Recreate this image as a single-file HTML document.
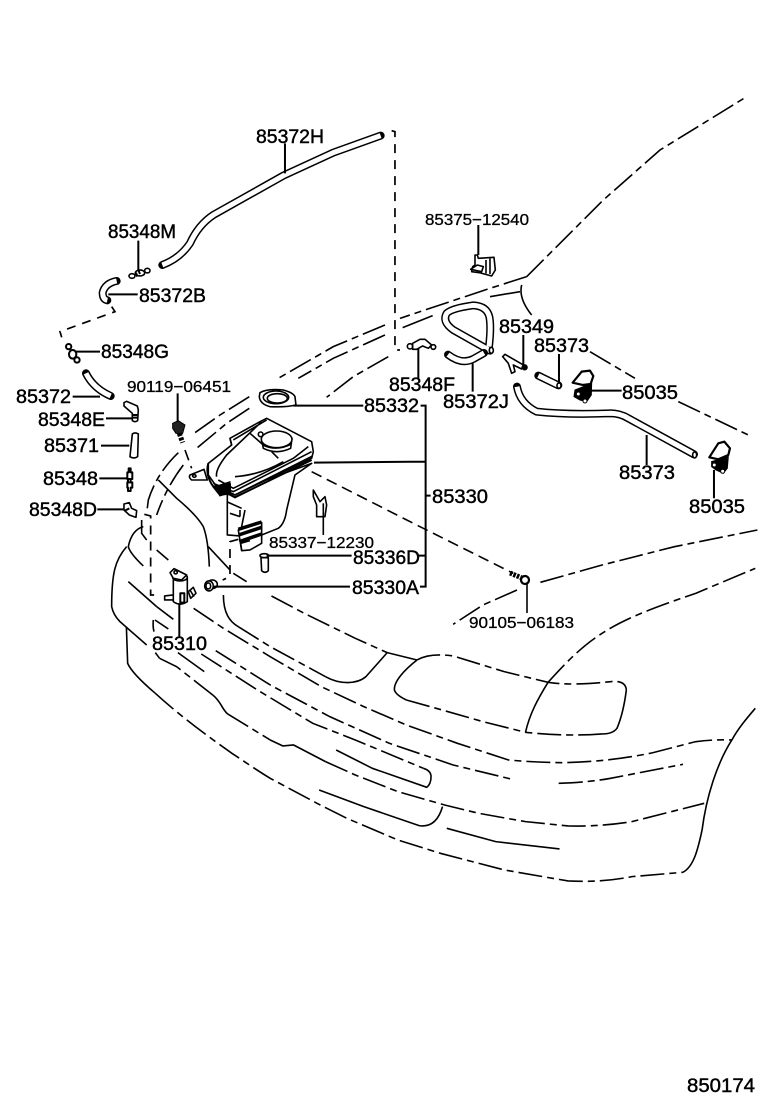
<!DOCTYPE html>
<html><head><meta charset="utf-8"><style>
html,body{margin:0;padding:0;background:#fff}
svg{display:block}
svg *{vector-effect:non-scaling-stroke}
.l{fill:none;stroke:#000;stroke-width:1.6;stroke-linejoin:round}
.k{fill:none;stroke:#000;stroke-width:2}
.d{fill:none;stroke:#000;stroke-width:1.6;stroke-dasharray:24 5 7 5}
.b{fill:none;stroke:#000;stroke-width:1.7;stroke-dasharray:9 7}
.s{fill:none;stroke:#000;stroke-width:1.6;stroke-dasharray:11 6}
.to{fill:none;stroke:#000;stroke-width:8;stroke-linecap:round;stroke-linejoin:round}
.ti{fill:none;stroke:#fff;stroke-width:5;stroke-linecap:butt;stroke-linejoin:round}
.w{fill:#fff;stroke:#000;stroke-width:1.6;stroke-linejoin:round}
.f{fill:#000;stroke:#000;stroke-width:1}
text{font-family:"Liberation Sans",sans-serif;fill:#000;font-size:19.5px;font-weight:400;stroke:#000;stroke-width:.45}
text.m{font-size:16px;stroke-width:.3}
</style></head><body>
<svg xmlns="http://www.w3.org/2000/svg" width="760" height="1112" viewBox="0 0 760 1112">
<rect width="760" height="1112" fill="#fff"/>

<!-- front of car (zoom 4 coordinates) -->
<g transform="translate(100,530) scale(.4255,.3333)">
<path class="d" d="M130,490C190,560 260,625 310,670C340,695 370,722 400,745L510,820L580,865L700,930L800,970L950,1020L1100,1053Q1180,1058 1250,1040L1370,1027"/>
<path class="l" d="M62,290L65,400Q75,430 130,490M1370,1027C1395,1010 1405,960 1415,900C1425,800 1450,700 1485,630C1500,595 1520,565 1540,535"/>
<path class="d" d="M220,235L290,295L400,380L520,470L620,530L720,585L840,640L960,690Q1030,698 1090,698Q1200,695 1300,668L1400,635Q1440,628 1485,630"/>
<path class="l" d="M290,195C290,250 305,275 325,290"/>
<path class="d" d="M325,290L400,350L530,440"/>
<path class="l" d="M530,440C565,465 605,462 625,440L675,368L745,390"/>
<path class="d" d="M403,198L480,250L600,325L675,368"/>
<path class="l" d="M745,390C715,420 690,455 692,480Q695,495 720,510"/>
<path class="d" d="M720,510L790,535L900,575L1000,607"/>
<path class="d" d="M745,390Q775,368 830,378L950,425L1053,457Q1110,468 1200,455Q1235,450 1237,480"/>
<path class="l" d="M1237,480Q1230,550 1215,595Q1205,612 1180,612"/>
<path class="d" d="M1180,612Q1100,620 1000,607"/>
<path class="l" d="M1000,607C1010,550 1030,505 1053,457"/>
<path class="d" d="M1053,457C1090,405 1130,350 1180,310C1240,260 1320,225 1400,190L1540,115"/>
<path class="d" d="M1035,157L1180,105L1350,50L1545,0"/>
<path class="d" d="M980,180L900,225L830,283"/>
<path class="d" d="M272,362L400,465L540,560L680,640L830,705L975,750"/>
<path class="d" d="M238,372L370,480L500,580L600,630L760,715"/>
<path class="l" d="M760,715Q778,722 778,740Q778,762 768,772L640,715L555,660"/>
<path class="l" d="M183,368L245,425M140,385L130,368"/>
<path class="d" d="M140,385L180,410L265,495"/>
<path class="l" d="M265,495C285,515 285,535 300,552"/>
<path class="d" d="M300,552L400,630"/>
<path class="l" d="M400,630L430,648L455,645L530,695"/>
<path class="d" d="M530,695L600,735L700,785L810,825L890,850L1000,875L1100,888Q1180,890 1250,875L1420,820"/>
<path class="l" d="M515,780L620,830L750,887Q790,895 805,830"/>
<path class="l" d="M815,895L930,935L1080,957"/>
<path class="d" d="M1078,760Q1150,757 1200,745L1370,703"/>
</g>

<!-- left side (zoom 2 coordinates) -->
<g transform="translate(0,380) scale(.3333)">
<path class="d" d="M535,218Q470,280 445,360L440,400"/>
<path class="d" d="M550,255Q500,320 470,405"/>
<path class="l" d="M475,300L530,355Q590,405 610,440Q625,480 628,560"/>
<path class="l" d="M625,500L690,570"/>
<path class="l" d="M425,420L425,460L440,480M430,440Q395,450 385,500Q390,520 430,558M470,510L505,540M385,605L470,680"/>
<path class="d" d="M470,680L520,718"/>
<path class="l" d="M380,500C345,540 335,580 335,680Q340,705 360,725L440,795"/>
<path class="l" d="M460,720Q458,740 462,755M465,720L505,747"/>
<path class="b" d="M433,403L452,408L452,645L470,645"/>
<path class="b" d="M715,478L690,485L690,590L668,600"/>
<path class="l" d="M700,580L740,605"/>
<path class="d" d="M748,50L660,105L575,165"/>
<path class="d" d="M748,85L680,130L590,205"/>
<path class="s" d="M555,210L575,265"/>
<path class="s" d="M935,275L1250,435L1540,580"/>

<!-- reservoir -->
<path class="w" d="M682,345L682,465L720,468L785,465L835,445Q855,430 860,390L885,285L935,250L700,335Z"/>
<path class="w" d="M690,175L780,125L800,115L935,185L940,215L935,235L705,345L650,320L625,285L625,250L695,195Z"/>
<path class="l" d="M640,310L700,335L935,215M650,318L705,345L938,228"/>
<path class="k" d="M640,318L705,352L935,240"/>
<path class="l" d="M650,290Q645,270 680,225L785,125M690,175L695,195M655,300L700,325L880,235L925,200M700,180L800,120"/>
<path class="k" d="M625,250Q615,285 640,320L660,345L690,340L690,310"/>
<path class="w" d="M570,285L612,268L622,300L575,300Q565,292 570,285Z"/>
<ellipse class="l" cx="583" cy="288" rx="5" ry="4"/>
<path class="f" d="M645,320L690,305L692,335L660,348Z"/>
<path class="l" d="M705,290Q780,285 850,245M750,160L790,195M815,215L835,235"/>
<path class="w" d="M785,180L790,205Q830,225 872,205L876,175Z"/>
<ellipse class="w" cx="830" cy="178" rx="46" ry="25"/>
<path class="l" d="M788,195Q830,215 874,192"/>
<circle class="w" cx="782" cy="163" r="7"/>
<path class="l" d="M720,390L720,410M690,400L720,410M735,390L725,440M680,365L725,385"/>
<path class="w" d="M715,450L785,428L785,490L750,510L725,512Z"/>
<path class="k" style="stroke-width:3.5" d="M715,448L785,426M716,465L785,442M718,485L785,462"/>
<path class="l" d="M722,490L750,482M722,490L725,510"/>

<!-- 85332 cap -->
<path class="w" d="M780,38Q800,25 850,30Q880,38 885,50L888,75Q860,82 810,80Q780,72 778,50Z"/>
<ellipse class="w" cx="828" cy="52" rx="38" ry="19"/>
<ellipse class="l" cx="832" cy="55" rx="30" ry="14"/>

<!-- 85337 -->
<path class="l" d="M940,330L960,365L975,350L980,375L975,410L950,410L950,375L940,350Z"/>

<!-- 85336D -->
<ellipse class="w" cx="793" cy="527" rx="13" ry="6"/>
<path class="w" d="M783,533L785,572Q795,582 805,572L805,533Z"/>

<!-- 85330A -->
<ellipse class="w" cx="637" cy="613" rx="15" ry="13"/>
<ellipse class="w" cx="627" cy="618" rx="13" ry="15"/>
<ellipse class="l" cx="625" cy="618" rx="7" ry="9"/>

<!-- pump -->
<path class="w" d="M565,635L580,622L588,640L572,655Z"/>
<path class="l" d="M570,630L582,650"/>
<path class="w" d="M494,648L520,645L520,660L494,660Z"/>
<path class="w" d="M520,600L520,665Q540,680 562,665L562,595Z"/>
<ellipse class="w" cx="540" cy="592" rx="22" ry="11"/>
<path class="w" d="M510,578L522,566L560,585L545,600L520,595Z"/>
<circle class="l" cx="527" cy="577" r="5"/>
<path class="w" d="M541,640h12v28h-12z" style="stroke-width:2"/>

<!-- 85348E -->
<path class="w" d="M372,68L380,64L412,78L415,90L413,122Q405,128 397,122L397,100L372,78Z"/>
<path class="k" d="M395,105H414M395,113H414"/>
<!-- 85371 -->
<path class="w" d="M397,162Q405,156 415,162L413,230Q402,238 390,230Z"/>
<!-- 85348 -->
<path class="w" style="stroke-width:2" d="M386,265h6v12h5v20h-5v10h5v16h-5v10h-8v-10h-2v-16h2v-10h-2v-20h4z"/>
<path class="k" d="M380,297H397M380,307H397"/>
<!-- 85348D -->
<path class="w" d="M372,372L388,368L395,385L410,392L408,412L388,405L372,390Z"/>
<path class="k" d="M388,385L375,392"/>
<!-- bolt 90119 -->
<path class="f" d="M518,130L535,122L555,135L548,160L528,160L518,145Z" style="fill:#222"/>
<path class="k" style="stroke-width:5;stroke-dasharray:3 1.5" d="M538,160L548,188"/>

<!-- leaders -->
<path class="k" d="M533,40V125M318,115H395M303,197H388M298,295H380M292,388H372M880,77H1090"/>
<path class="k" d="M1262,77H1277V620H1260M942,248L1277,245M1277,347H1292M1255,527H1277M800,527H1055M640,620H1050M538,670V770"/>
<path class="l" d="M970,370V465"/>
</g>

<!-- top left (zoom 1 coordinates) -->
<g transform="translate(0,110) scale(.3333)">
<path class="to" d="M487,465Q540,445 570,400Q595,345 640,315L850,197L1000,128L1142,77"/>
<path class="ti" d="M487,465Q540,445 570,400Q595,345 640,315L850,197L1000,128L1142,77"/>
<path class="to" d="M350,513Q315,520 308,548Q308,568 322,571"/>
<path class="ti" d="M350,513Q315,520 308,548Q308,568 322,571"/>
<path class="to" d="M258,790Q280,835 332,858"/>
<path class="ti" d="M258,790Q280,835 332,858"/>
<ellipse class="w" cx="396" cy="498" rx="9" ry="7"/>
<ellipse class="w" cx="420" cy="489" rx="14" ry="9"/>
<ellipse class="w" cx="442" cy="482" rx="8" ry="7"/>
<path class="k" d="M415,480L420,492M408,488L412,500"/>
<circle class="w" cx="206" cy="710" r="8" style="stroke-width:2"/>
<ellipse class="w" cx="218" cy="733" rx="11" ry="13" style="stroke-width:2"/>
<circle class="w" cx="231" cy="750" r="8" style="stroke-width:2"/>
<path class="k" d="M225,725H300M855,100V190M415,392V480M325,553H413M218,860H300"/>
<path class="b" d="M335,590L345,605L180,665L185,682"/>
<path class="b" d="M1175,62L1185,65V720H1200"/>
<path class="d" d="M1155,645L1000,710L830,808"/>
<path class="d" d="M1155,675L1000,745L895,805"/>
<path class="d" d="M1165,740L1060,800L980,862"/>
</g>

<!-- right side (zoom 3 coordinates) -->
<g transform="translate(390,200) scale(.3333)">
<path class="d" d="M410,230L300,265L30,355"/>
<path class="d" d="M410,230L640,0L810,-150L1070,-310"/>
<path class="l" d="M390,275L300,290M395,255Q385,295 425,345M128,347L38,383"/>
<path class="d" d="M600,455L735,535"/>
<path class="d" d="M865,605L1075,705"/>

<path class="to" d="M297,440Q304,380 298,350Q290,318 250,316Q185,325 170,340Q155,365 190,390L300,452"/>
<path class="ti" d="M297,440Q304,380 298,350Q290,318 250,316Q185,325 170,340Q155,365 190,390L300,452"/>
<path class="to" d="M174,464Q215,495 250,477L282,459"/>
<path class="ti" d="M174,464Q215,495 250,477L282,459"/>
<path class="to" d="M381,560Q390,610 440,635Q530,645 660,640Q690,640 715,655L912,763"/>
<path class="ti" d="M381,560Q390,610 440,635Q530,645 660,640Q690,640 715,655L912,763"/>
<path class="to" d="M445,527L505,556"/>
<path class="ti" d="M445,527L505,556"/>
<ellipse class="w" cx="304" cy="451" rx="6" ry="9"/>
<ellipse class="w" cx="914" cy="765" rx="6" ry="9"/>
<ellipse class="w" cx="507" cy="557" rx="6" ry="8"/>

<!-- clip -->
<path class="w" d="M255,165L262,165L265,175L312,172L316,210L305,228L268,218L245,215L248,200L255,195Z"/>
<path class="l" d="M288,180V220M300,175V222"/>
<path class="w" d="M242,208L262,195L280,200L275,215Z"/>

<!-- 85348F -->
<circle class="w" cx="60" cy="439" r="8"/>
<circle class="w" cx="130" cy="441" r="7"/>
<path class="w" d="M68,430L90,418L105,418L125,435L115,445L98,438L80,448L68,448Z"/>

<!-- 85349 -->
<path class="w" d="M338,470L345,463L400,495L395,507L370,495L375,515L365,520L355,490Z"/>
<circle class="f" cx="404" cy="502" r="8"/>

<!-- nozzle 1 -->
<path class="w" style="stroke-width:2.2" d="M548,548L575,515L600,512L610,528L602,552L578,555Z"/>
<path class="f" d="M555,570L605,550L604,585L590,605L570,600L552,590Z"/>
<circle cx="565" cy="582" r="6" fill="#fff" stroke="#000"/>
<circle cx="585" cy="603" r="6" fill="#fff" stroke="#000"/>

<!-- nozzle 2 -->
<path class="w" style="stroke-width:2.2" d="M958,772L985,730L1003,725L1020,745L1015,765L985,778Z"/>
<path class="f" d="M965,785L1015,770L1012,805L1000,820L978,810L965,800Z"/>
<circle cx="973" cy="795" r="6" fill="#fff" stroke="#000"/>
<circle cx="998" cy="814" r="6" fill="#fff" stroke="#000"/>

<path class="k" d="M265,75V165M85,445V535M248,490V575M400,405V495M507,462V550M600,572H695M770,705V795M972,810V895"/>
</g>

<path class="l" d="M527,582V613"/>
<!-- bolt 90105 -->
<path class="k" style="stroke-width:5;stroke-dasharray:2.5 1.2" d="M510,573L522,578"/>
<circle class="w" cx="525" cy="580" r="4" style="stroke-width:2.2"/>

<!-- labels -->
<text x="256" y="143" textLength="68" lengthAdjust="spacingAndGlyphs">85372H</text>
<text x="108" y="238" textLength="68" lengthAdjust="spacingAndGlyphs">85348M</text>
<text x="139" y="302" textLength="67" lengthAdjust="spacingAndGlyphs">85372B</text>
<text x="101" y="358" textLength="68" lengthAdjust="spacingAndGlyphs">85348G</text>
<text x="16" y="403" textLength="55" lengthAdjust="spacingAndGlyphs">85372</text>
<text class="m" x="127" y="392" textLength="104" lengthAdjust="spacingAndGlyphs">90119−06451</text>
<text x="38" y="426" textLength="67" lengthAdjust="spacingAndGlyphs">85348E</text>
<text x="44" y="452" textLength="55" lengthAdjust="spacingAndGlyphs">85371</text>
<text x="43" y="485" textLength="55" lengthAdjust="spacingAndGlyphs">85348</text>
<text x="29" y="516" textLength="68" lengthAdjust="spacingAndGlyphs">85348D</text>
<text x="364" y="412" textLength="55" lengthAdjust="spacingAndGlyphs">85332</text>
<text x="432" y="503" textLength="56" lengthAdjust="spacingAndGlyphs">85330</text>
<text class="m" x="269" y="548" textLength="105" lengthAdjust="spacingAndGlyphs">85337−12230</text>
<text x="353" y="564" textLength="67" lengthAdjust="spacingAndGlyphs">85336D</text>
<text x="352" y="594" textLength="67" lengthAdjust="spacingAndGlyphs">85330A</text>
<text x="152" y="650" textLength="55" lengthAdjust="spacingAndGlyphs">85310</text>
<text class="m" x="469" y="628" textLength="105" lengthAdjust="spacingAndGlyphs">90105−06183</text>
<text class="m" x="425" y="225" textLength="104" lengthAdjust="spacingAndGlyphs">85375−12540</text>
<text x="389" y="391" textLength="66" lengthAdjust="spacingAndGlyphs">85348F</text>
<text x="443" y="408" textLength="66" lengthAdjust="spacingAndGlyphs">85372J</text>
<text x="499" y="333" textLength="55" lengthAdjust="spacingAndGlyphs">85349</text>
<text x="534" y="352" textLength="55" lengthAdjust="spacingAndGlyphs">85373</text>
<text x="622" y="399" textLength="56" lengthAdjust="spacingAndGlyphs">85035</text>
<text x="619" y="479" textLength="56" lengthAdjust="spacingAndGlyphs">85373</text>
<text x="689" y="513" textLength="56" lengthAdjust="spacingAndGlyphs">85035</text>
<text x="687" y="1092" textLength="68" lengthAdjust="spacingAndGlyphs">850174</text>
</svg>
</body></html>
